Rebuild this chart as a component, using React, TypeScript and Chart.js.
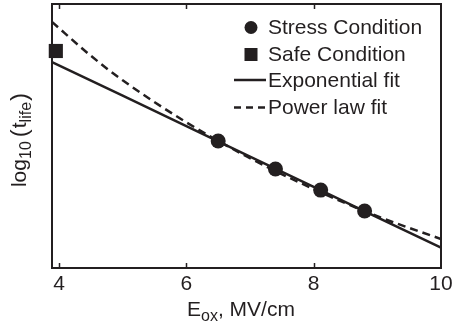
import React, { useEffect, useRef } from "react";
import { Chart, registerables } from "chart.js";

Chart.register(...registerables);

// Measured data (arbitrary log10 units on the y axis, which has no tick labels)
const stressE = [6.5, 7.4, 8.11, 8.8];
const stressLog = [4.81, 3.75, 2.95, 2.16];
const safeE = [3.95];
const safeLog = [8.22];
const expFitE = [3.89, 5, 6, 7, 8, 9, 10];
const expFitLog = [7.8, 6.53, 5.37, 4.22, 3.07, 1.92, 0.77];
const powFitE = [3.89, 4.5, 5, 6, 7, 8, 9, 10];
const powFitLog = [9.32, 8.04, 7.11, 5.52, 4.16, 2.99, 1.96, 1.1];
const xTicks = [4, 6, 8, 10];
const legendLabels = ["Stress Condition", "Safe Condition", "Exponential fit", "Power law fit"];

const INK = "#231f20";
const FONT = "'Liberation Sans', Arial, Helvetica, sans-serif";

const zip = (xs: number[], ys: number[]) => xs.map((x, i) => ({ x, y: ys[i] }));

const decorPlugin = {
  id: "decor",
  afterDraw(chart: any) {
    const { ctx, chartArea: a, scales } = chart;
    const xs = scales.x;
    ctx.save();
    // frame
    ctx.strokeStyle = INK;
    ctx.lineWidth = 2;
    ctx.setLineDash([]);
    ctx.strokeRect(a.left, a.top, a.right - a.left, a.bottom - a.top);
    // inward ticks top & bottom
    ctx.lineWidth = 1.5;
    for (const t of xTicks) {
      const px = Math.round(xs.getPixelForValue(t)) + 0.5;
      if (px >= a.right - 1) continue;
      ctx.beginPath();
      ctx.moveTo(px, a.bottom);
      ctx.lineTo(px, a.bottom - 5);
      ctx.moveTo(px, a.top);
      ctx.lineTo(px, a.top + 5);
      ctx.stroke();
    }
    ctx.fillStyle = INK;
    ctx.textAlign = "left";
    ctx.textBaseline = "alphabetic";

    // x title: E_ox, MV/cm
    const big = `21px ${FONT}`;
    const small = `16px ${FONT}`;
    const paren = `24px ${FONT}`;
    const parts = [
      { t: "E", f: big, dy: 0 },
      { t: "ox", f: small, dy: 5 },
      { t: ", MV/cm", f: big, dy: 0 },
    ];
    let w = 0;
    for (const p of parts) { ctx.font = p.f; w += ctx.measureText(p.t).width; }
    let x = 241 - w / 2;
    const by = 316;
    for (const p of parts) {
      ctx.font = p.f;
      ctx.fillText(p.t, x, by + p.dy);
      x += ctx.measureText(p.t).width;
    }

    // y title: log10(t_life)
    const yparts = [
      { t: "log", f: big, dy: 0, gap: 0 },
      { t: "10", f: small, dy: 5, gap: 0 },
      { t: "(", f: paren, dy: 1, gap: 4 },
      { t: "t", f: big, dy: 0, gap: 1 },
      { t: "life", f: small, dy: 5, gap: 0 },
      { t: ")", f: paren, dy: 1, gap: 1 },
    ];
    let yw = 0;
    for (const p of yparts) { ctx.font = p.f; yw += ctx.measureText(p.t).width + p.gap; }
    ctx.save();
    ctx.translate(26, 140);
    ctx.rotate(-Math.PI / 2);
    let lx = -yw / 2;
    for (const p of yparts) {
      lx += p.gap;
      ctx.font = p.f;
      ctx.fillText(p.t, lx, p.dy);
      lx += ctx.measureText(p.t).width;
    }
    ctx.restore();

    // legend
    const rows = [27.5, 54.5, 80, 107.5];
    const mx = 251;
    const tx = 268;
    ctx.font = `21px ${FONT}`;
    ctx.beginPath();
    ctx.arc(mx, rows[0], 6.5, 0, Math.PI * 2);
    ctx.fill();
    ctx.fillRect(mx - 6.5, rows[1] - 6.5, 13, 13);
    ctx.lineWidth = 2.5;
    ctx.beginPath();
    ctx.moveTo(234, rows[2]);
    ctx.lineTo(266, rows[2]);
    ctx.stroke();
    ctx.setLineDash([7, 5]);
    ctx.beginPath();
    ctx.moveTo(234, rows[3]);
    ctx.lineTo(266, rows[3]);
    ctx.stroke();
    ctx.setLineDash([]);
    ctx.textBaseline = "middle";
    legendLabels.forEach((lab, i) => ctx.fillText(lab, tx, rows[i] + 1));
    ctx.restore();
  },
};

export default function App() {
  const ref = useRef<HTMLCanvasElement | null>(null);
  useEffect(() => {
    if (!ref.current) return;
    const chart = new Chart(ref.current, {
      type: "scatter",
      data: {
        datasets: [
          {
            label: legendLabels[0],
            data: zip(stressE, stressLog),
            pointStyle: "circle",
            pointRadius: 7.5,
            backgroundColor: INK,
            borderColor: INK,
            borderWidth: 0,
            showLine: false,
          },
          {
            label: legendLabels[1],
            data: zip(safeE, safeLog),
            pointStyle: "rect",
            pointRadius: 10,
            backgroundColor: INK,
            borderColor: INK,
            borderWidth: 0,
            showLine: false,
            clip: false,
          },
          {
            label: legendLabels[2],
            data: zip(expFitE, expFitLog),
            showLine: true,
            pointRadius: 0,
            borderColor: INK,
            borderWidth: 2.5,
            fill: false,
          },
          {
            label: legendLabels[3],
            data: zip(powFitE, powFitLog),
            showLine: true,
            pointRadius: 0,
            borderColor: INK,
            borderWidth: 2.5,
            borderDash: [8, 5],
            cubicInterpolationMode: "monotone",
            fill: false,
          },
        ],
      } as any,
      options: {
        animation: false,
        responsive: false,
        maintainAspectRatio: false,
        layout: { autoPadding: false, padding: { left: 52, right: 11, top: 4, bottom: 0 } },
        plugins: { legend: { display: false }, tooltip: { enabled: false } },
        scales: {
          x: {
            type: "linear",
            min: 3.89,
            max: 10,
            afterBuildTicks: (s: any) => {
              s.ticks = xTicks.map((v) => ({ value: v }));
            },
            afterFit: (s: any) => {
              s.height = 54;
              s.paddingLeft = 0;
              s.paddingRight = 0;
            },
            grid: { display: false, drawTicks: false },
            border: { display: false },
            ticks: {
              color: INK,
              font: { family: FONT, size: 21 },
              padding: 4,
              maxRotation: 0,
              autoSkip: false,
            },
          },
          y: {
            type: "linear",
            min: 0,
            max: 10,
            display: false,
          },
        },
      } as any,
      plugins: [decorPlugin],
    });
    return () => chart.destroy();
  }, []);
  return (
    <div style={{ position: "fixed", left: 0, top: 0, width: 452, height: 322, background: "#fff" }}>
      <canvas ref={ref} width={452} height={322} style={{ width: 452, height: 322 }} />
    </div>
  );
}
